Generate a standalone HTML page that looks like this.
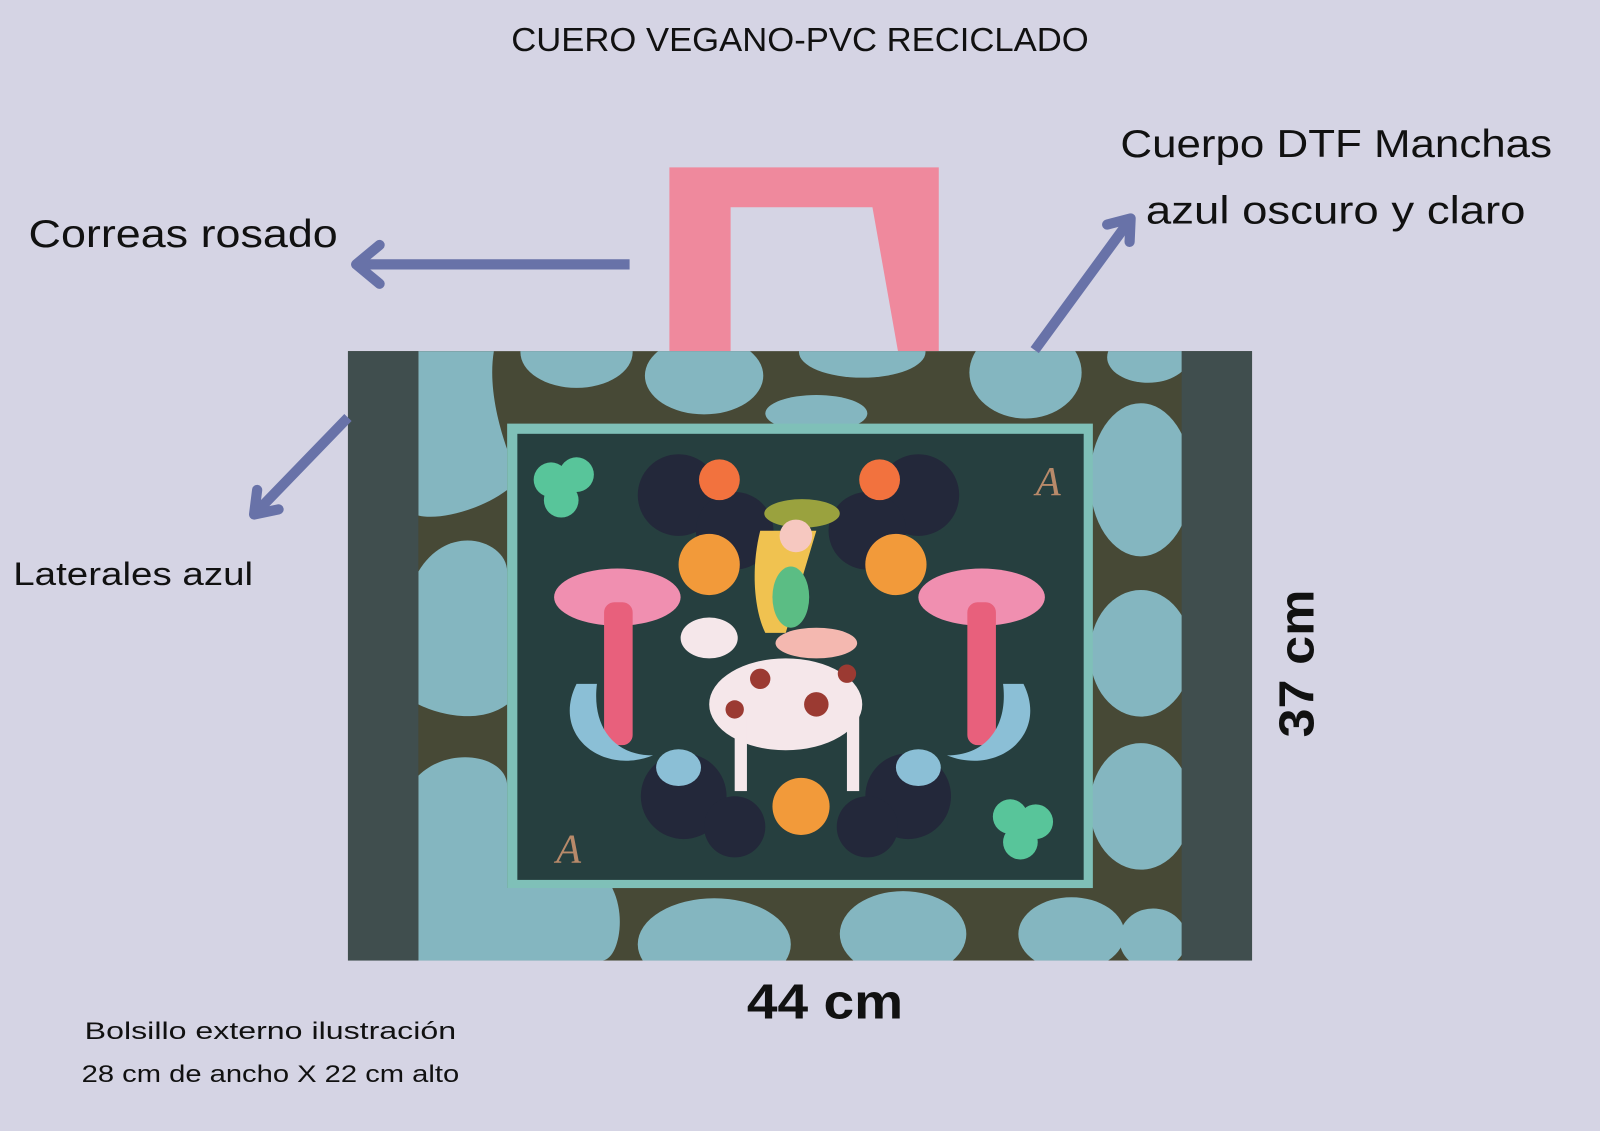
<!DOCTYPE html>
<html><head><meta charset="utf-8"><style>
html,body{margin:0;padding:0;background:#d5d4e4;width:1600px;height:1131px;overflow:hidden}
svg{display:block}
text{font-family:"Liberation Sans",sans-serif;fill:#111}
</style></head><body>
<svg width="1600" height="1131" viewBox="0 0 1568 1108" preserveAspectRatio="none">
<defs><clipPath id="bc"><rect x="410" y="344" width="748" height="597"/></clipPath></defs>
<rect width="1568" height="1108" fill="#d5d4e4"/>
<text x="784" y="50" font-size="33" text-anchor="middle" textLength="566" lengthAdjust="spacingAndGlyphs">CUERO VEGANO-PVC RECICLADO</text>

<!-- handle -->
<path d="M656 164 H920 V344 H880 L855 203 H716 V344 H656 Z" fill="#ef899d"/>

<!-- bag -->
<rect x="341" y="344" width="886" height="597" fill="#474936"/>
<rect x="341" y="344" width="69" height="597" fill="#404e4e"/>
<rect x="1158" y="344" width="69" height="597" fill="#404e4e"/>
<g fill="#84b6c0" clip-path="url(#bc)">
<path d="M410 344 H484 C478 380 490 420 497 440 V480 C470 500 430 510 410 505 Z"/>
<path d="M410 560 C440 510 497 530 497 560 V690 C470 710 430 700 410 690 Z"/>
<path d="M410 760 C440 730 497 740 497 770 V870 C470 880 430 880 410 870 Z"/>
<path d="M410 870 H600 C615 900 605 941 590 941 H410 Z"/>
<ellipse cx="565" cy="345" rx="55" ry="35"/>
<ellipse cx="690" cy="368" rx="58" ry="38"/>
<ellipse cx="845" cy="345" rx="62" ry="25"/>
<ellipse cx="800" cy="405" rx="50" ry="18"/>
<ellipse cx="1005" cy="365" rx="55" ry="45"/>
<ellipse cx="1125" cy="350" rx="40" ry="25"/>
<ellipse cx="1118" cy="470" rx="50" ry="75"/>
<ellipse cx="1118" cy="640" rx="50" ry="62"/>
<ellipse cx="1118" cy="790" rx="50" ry="62"/>
<ellipse cx="700" cy="925" rx="75" ry="45"/>
<ellipse cx="885" cy="915" rx="62" ry="42"/>
<ellipse cx="1050" cy="915" rx="52" ry="36"/>
<ellipse cx="1130" cy="920" rx="33" ry="30"/>
</g>

<!-- pocket -->
<rect x="497" y="415" width="574" height="455" fill="#7fc0b8"/>
<rect x="507" y="425" width="555" height="437" fill="#263f3f"/>
<g fill="#23283a">
<circle cx="665" cy="485" r="40"/><circle cx="720" cy="520" r="38"/>
<circle cx="900" cy="485" r="40"/><circle cx="850" cy="520" r="38"/>
<circle cx="670" cy="780" r="42"/><circle cx="890" cy="780" r="42"/>
<circle cx="720" cy="810" r="30"/><circle cx="850" cy="810" r="30"/>
</g>
<g fill="#58c59a"><circle cx="540" cy="470" r="17"/><circle cx="565" cy="465" r="17"/><circle cx="550" cy="490" r="17"/>
<circle cx="990" cy="800" r="17"/><circle cx="1015" cy="805" r="17"/><circle cx="1000" cy="825" r="17"/></g>
<g fill="#f2723e"><circle cx="705" cy="470" r="20"/><circle cx="862" cy="470" r="20"/></g>
<g fill="#f29a3a"><circle cx="695" cy="553" r="30"/><circle cx="878" cy="553" r="30"/><circle cx="785" cy="790" r="28"/></g>
<g fill="#f08fb0"><ellipse cx="605" cy="585" rx="62" ry="28"/><ellipse cx="962" cy="585" rx="62" ry="28"/></g>
<g fill="#e8607c"><rect x="592" y="590" width="28" height="140" rx="10"/><rect x="948" y="590" width="28" height="140" rx="10"/></g>
<g fill="#8bbfd6"><path d="M565 670 C540 720 590 760 640 740 C600 740 580 710 585 670 Z"/><path d="M1003 670 C1028 720 978 760 928 740 C968 740 988 710 983 670 Z"/>
<ellipse cx="665" cy="752" rx="22" ry="18"/><ellipse cx="900" cy="752" rx="22" ry="18"/></g>
<ellipse cx="770" cy="690" rx="75" ry="45" fill="#f5e7ea"/>
<ellipse cx="695" cy="625" rx="28" ry="20" fill="#f5e7ea"/>
<rect x="720" y="700" width="12" height="75" fill="#f5e7ea"/><rect x="830" y="700" width="12" height="75" fill="#f5e7ea"/>
<g fill="#9b3a32"><circle cx="745" cy="665" r="10"/><circle cx="800" cy="690" r="12"/><circle cx="720" cy="695" r="9"/><circle cx="830" cy="660" r="9"/></g>
<path d="M745 520 C735 560 740 600 750 620 L770 620 L800 520 Z" fill="#f0c250"/>
<ellipse cx="775" cy="585" rx="18" ry="30" fill="#5bbd84"/>
<ellipse cx="800" cy="630" rx="40" ry="15" fill="#f4b8b0"/>
<ellipse cx="786" cy="503" rx="37" ry="14" fill="#9aa23e"/>
<circle cx="780" cy="525" r="16" fill="#f6c8c0"/>
<text x="1015" y="485" font-size="40" style="fill:#b88a6a;font-family:'Liberation Serif',serif;font-style:italic">A</text>
<text x="545" y="845" font-size="40" style="fill:#b88a6a;font-family:'Liberation Serif',serif;font-style:italic">A</text>

<!-- arrows -->
<g stroke="#6872a8" stroke-width="10" stroke-linecap="round" fill="none" stroke-linejoin="round">
<path d="M617 259 H352" stroke-linecap="butt"/>
<path d="M372 240 L349 259 L372 278"/>
<path d="M341 409 L252 501" stroke-linecap="butt"/>
<path d="M252 480 L249 504 L273 499"/>
<path d="M1014 343 L1104 220" stroke-linecap="butt"/>
<path d="M1085 220 L1108 214 L1107 237"/>
</g>

<text x="28" y="242" font-size="38" textLength="303" lengthAdjust="spacingAndGlyphs">Correas rosado</text>
<text x="1098" y="154" font-size="38" textLength="423" lengthAdjust="spacingAndGlyphs">Cuerpo DTF Manchas</text>
<text x="1123" y="219" font-size="38" textLength="372" lengthAdjust="spacingAndGlyphs">azul oscuro y claro</text>
<text x="13" y="573" font-size="32" textLength="235" lengthAdjust="spacingAndGlyphs">Laterales azul</text>
<text x="732" y="998" font-size="48" font-weight="bold" textLength="153" lengthAdjust="spacingAndGlyphs">44 cm</text>
<text transform="translate(1287,650) rotate(-90)" x="0" y="0" font-size="48" font-weight="bold" text-anchor="middle" textLength="145" lengthAdjust="spacingAndGlyphs">37 cm</text>
<text x="265" y="1018" font-size="24" text-anchor="middle" textLength="364" lengthAdjust="spacingAndGlyphs">Bolsillo  externo  ilustración</text>
<text x="265" y="1060" font-size="24" text-anchor="middle" textLength="370" lengthAdjust="spacingAndGlyphs">28 cm de ancho X 22 cm alto</text>
</svg>
</body></html>
